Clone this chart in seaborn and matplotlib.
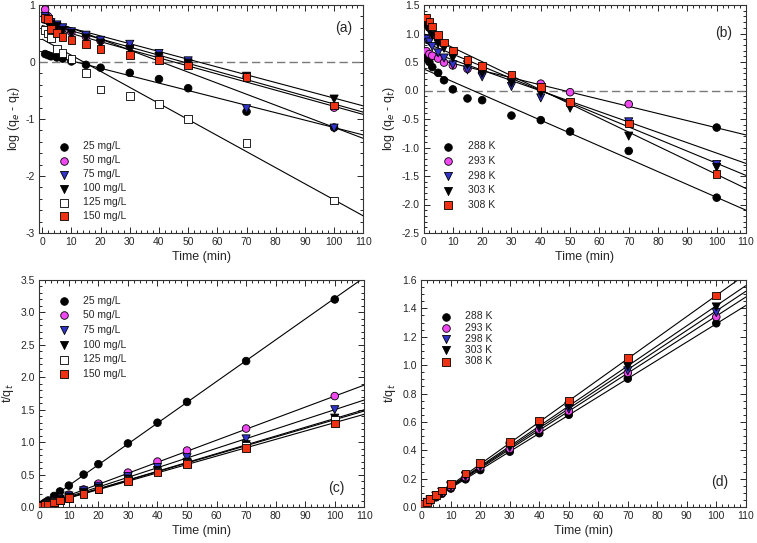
import numpy as np
import pandas as pd
import matplotlib
matplotlib.use("Agg")
import matplotlib.pyplot as plt
import seaborn as sns
from matplotlib.ticker import MultipleLocator, FormatStrFormatter

# ---------------- data ----------------
time = [1, 2, 3, 5, 7, 10, 15, 20, 30, 40, 50, 70, 100]
fit_t = [0, 110]

conc_labels = ["25 mg/L", "50 mg/L", "75 mg/L", "100 mg/L", "125 mg/L", "150 mg/L"]
temp_labels = ["288 K", "293 K", "298 K", "303 K", "308 K"]

# (a) pseudo-first-order, concentrations
a_25 = [0.14, 0.12, 0.10, 0.08, 0.06, 0.01, -0.05, -0.10, -0.19, -0.30, -0.46, -0.87, -1.15]
a_50 = [0.92, 0.80, 0.70, 0.64, 0.58, 0.52, 0.44, 0.37, 0.27, 0.12, 0.00, -0.26, -0.80]
a_75 = [0.80, 0.72, 0.69, 0.65, 0.60, 0.53, 0.47, 0.38, 0.31, 0.15, 0.02, -0.82, -1.16]
a_100 = [0.75, 0.68, 0.65, 0.62, 0.55, 0.50, 0.42, 0.33, 0.22, 0.10, -0.02, -0.25, -0.65]
a_125 = [0.56, 0.50, 0.42, 0.23, 0.16, 0.05, -0.19, -0.48, -0.60, -0.74, -1.00, -1.42, -2.43]
a_150 = [0.77, 0.75, 0.58, 0.51, 0.44, 0.39, 0.32, 0.23, 0.12, 0.03, -0.06, -0.26, -0.76]
a_fit_start = [0.15, 0.69, 0.79, 0.73, 0.40, 0.64]
a_fit_end = [-1.28, -0.88, -1.34, -0.77, -2.70, -0.92]

# (b) pseudo-first-order, temperatures
b_288 = [0.57, 0.50, 0.41, 0.31, 0.18, 0.02, -0.14, -0.17, -0.44, -0.52, -0.72, -1.06, -1.88]
b_293 = [0.69, 0.64, 0.61, 0.56, 0.49, 0.44, 0.38, 0.33, 0.22, 0.12, -0.03, -0.24, -0.65]
b_298 = [0.90, 0.85, 0.77, 0.66, 0.57, 0.45, 0.36, 0.24, 0.07, -0.13, -0.27, -0.55, -1.30]
b_303 = [1.12, 1.05, 0.97, 0.82, 0.74, 0.57, 0.45, 0.30, 0.13, -0.05, -0.31, -0.80, -1.35]
b_308 = [1.28, 1.21, 1.12, 0.97, 0.84, 0.70, 0.54, 0.43, 0.28, 0.06, -0.20, -0.58, -1.47]
b_fit_start = [0.38, 0.60, 0.72, 0.85, 1.00]
b_fit_end = [-2.10, -0.78, -1.28, -1.49, -1.72]
# in the reference the last 293 K point is printed with a black fill
b_293_last_fill = "black"

# (c) pseudo-second-order, concentrations
c_25 = [0.035, 0.07, 0.10, 0.17, 0.24, 0.33, 0.50, 0.66, 0.98, 1.30, 1.62, 2.25, 3.20]
c_50 = [0.03, 0.05, 0.07, 0.10, 0.14, 0.19, 0.27, 0.36, 0.53, 0.70, 0.87, 1.21, 1.71]
c_75 = [0.02, 0.04, 0.06, 0.09, 0.12, 0.17, 0.25, 0.32, 0.47, 0.61, 0.76, 1.05, 1.50]
c_100 = [0.02, 0.035, 0.05, 0.08, 0.11, 0.15, 0.22, 0.29, 0.43, 0.56, 0.69, 0.96, 1.37]
c_125 = [0.015, 0.03, 0.045, 0.075, 0.10, 0.14, 0.21, 0.28, 0.42, 0.55, 0.68, 0.95, 1.35]
c_150 = [0.015, 0.03, 0.04, 0.07, 0.10, 0.14, 0.20, 0.27, 0.40, 0.53, 0.66, 0.91, 1.29]
c_fit_start = [0.01, 0.01, 0.01, 0.01, 0.01, 0.01]
c_fit_end = [3.54, 1.88, 1.65, 1.50, 1.48, 1.43]

# (d) pseudo-second-order, temperatures
d_288 = [0.015, 0.029, 0.043, 0.068, 0.093, 0.13, 0.195, 0.26, 0.39, 0.52, 0.65, 0.905, 1.295]
d_293 = [0.016, 0.031, 0.046, 0.073, 0.10, 0.14, 0.21, 0.28, 0.41, 0.545, 0.675, 0.945, 1.34]
d_298 = [0.016, 0.032, 0.048, 0.075, 0.102, 0.145, 0.215, 0.285, 0.42, 0.555, 0.69, 0.96, 1.37]
d_303 = [0.017, 0.033, 0.05, 0.078, 0.105, 0.15, 0.22, 0.29, 0.43, 0.57, 0.71, 0.99, 1.41]
d_308 = [0.02, 0.035, 0.055, 0.085, 0.115, 0.16, 0.235, 0.31, 0.46, 0.61, 0.75, 1.05, 1.49]
d_fit_start = [0.005, 0.005, 0.005, 0.005, 0.005]
d_fit_end = [1.42, 1.48, 1.52, 1.56, 1.64]

# ---------------- style ----------------
sns.set_theme(style="ticks")
plt.rcParams["font.family"] = ["Liberation Sans", "DejaVu Sans"]
plt.rcParams["axes.unicode_minus"] = False

MAGENTA = "#f048f0"
BLUE = "#3034c8"
RED = "#f03214"

conc_styles = [("o", "black"), ("o", MAGENTA), ("v", BLUE), ("v", "black"), ("s", "white"), ("s", RED)]
temp_styles = [("o", "black"), ("o", MAGENTA), ("v", BLUE), ("v", "black"), ("s", RED)]

fig = plt.figure(figsize=(7.57, 5.43), dpi=100)
W, H = 757.0, 543.0
axa = fig.add_axes([39.3 / W, 1 - 233 / H, 324 / W, 228 / H])
axb = fig.add_axes([423.5 / W, 1 - 233 / H, 322.5 / W, 228 / H])
axc = fig.add_axes([39.3 / W, 1 - 507 / H, 325 / W, 227 / H])
axd = fig.add_axes([421.3 / W, 1 - 507 / H, 324.5 / W, 227 / H])


def draw_panel(ax, series, labels, styles, starts, ends, fills=None):
    handles = []
    for s, e in zip(starts, ends):
        sns.lineplot(x=fit_t, y=[s, e], ax=ax, color="black", linewidth=0.8,
                     zorder=2, legend=False)
    for i, (vals, lab, (mk, col)) in enumerate(zip(series, labels, styles)):
        size = 30 if mk != "v" else 34
        fc = fills[i] if fills is not None and fills[i] is not None else [col] * len(vals)
        ax.scatter(time, vals, marker=mk, c=fc, edgecolors="black",
                   linewidths=0.6, s=size, zorder=3)
        h = ax.scatter([], [], marker=mk, facecolor=col, edgecolor="black",
                       linewidths=0.6, s=size, label=lab)
        handles.append(h)
    return handles


def style_axes(ax, ylim, ymaj, ymin, yfmt, xlim):
    ax.set_xlim(*xlim)
    ax.set_ylim(*ylim)
    ax.xaxis.set_major_locator(MultipleLocator(10))
    ax.xaxis.set_minor_locator(MultipleLocator(2))
    ax.yaxis.set_major_locator(MultipleLocator(ymaj))
    ax.yaxis.set_minor_locator(MultipleLocator(ymin))
    ax.yaxis.set_major_formatter(FormatStrFormatter(yfmt))
    ax.tick_params(which="both", direction="in", top=True, right=True,
                   labelsize=7.5, width=0.7, pad=3)
    ax.tick_params(which="major", length=4)
    ax.tick_params(which="minor", length=2)
    for sp in ax.spines.values():
        sp.set_linewidth(0.8)
        sp.set_color("#333333")
    ax.set_xlabel("Time (min)", fontsize=9, labelpad=3)


# (a)
ha = draw_panel(axa, [a_25, a_50, a_75, a_100, a_125, a_150], conc_labels, conc_styles,
                a_fit_start, a_fit_end)
axa.axhline(0, color="#7a7a7a", linestyle=(0, (6, 3)), linewidth=1.0, zorder=1)
style_axes(axa, (-3, 1), 1, 0.2, "%d", (-1, 110))
axa.set_ylabel("log (q$_e$ - q$_t$)", fontsize=9, labelpad=3)
axa.legend(handles=ha, loc="upper left", bbox_to_anchor=(0.03, 0.42), frameon=False,
           fontsize=7.5, handletextpad=0.9, labelspacing=0.38, borderaxespad=0.0)
axa.text(0.94, 0.90, "(a)", transform=axa.transAxes, fontsize=10, ha="center", va="center")

# (b)
b_fills = [None, [MAGENTA] * (len(b_293) - 1) + [b_293_last_fill], None, None, None]
hb = draw_panel(axb, [b_288, b_293, b_298, b_303, b_308], temp_labels, temp_styles,
                b_fit_start, b_fit_end, fills=b_fills)
axb.axhline(0, color="#7a7a7a", linestyle=(0, (6, 3)), linewidth=1.0, zorder=1)
style_axes(axb, (-2.5, 1.5), 0.5, 0.1, "%.1f", (0, 110))
axb.set_ylabel("log (q$_e$ - q$_t$)", fontsize=9, labelpad=3)
axb.legend(handles=hb, loc="upper left", bbox_to_anchor=(0.03, 0.42), frameon=False,
           fontsize=7.5, handletextpad=0.9, labelspacing=0.45, borderaxespad=0.0)
axb.text(0.93, 0.877, "(b)", transform=axb.transAxes, fontsize=10, ha="center", va="center")

# (c)
hc = draw_panel(axc, [c_25, c_50, c_75, c_100, c_125, c_150], conc_labels, conc_styles,
                c_fit_start, c_fit_end)
style_axes(axc, (0, 3.5), 0.5, 0.1, "%.1f", (0, 110))
axc.set_ylabel("t/q$_t$", fontsize=9, labelpad=3)
axc.legend(handles=hc, loc="upper left", bbox_to_anchor=(0.03, 0.95), frameon=False,
           fontsize=7.5, handletextpad=0.9, labelspacing=0.45, borderaxespad=0.0)
axc.text(0.915, 0.085, "(c)", transform=axc.transAxes, fontsize=10, ha="center", va="center")

# (d)
hd = draw_panel(axd, [d_288, d_293, d_298, d_303, d_308], temp_labels, temp_styles,
                d_fit_start, d_fit_end)
style_axes(axd, (0, 1.6), 0.2, 0.05, "%.1f", (0, 110))
axd.set_ylabel("t/q$_t$", fontsize=9, labelpad=3)
axd.legend(handles=hd, loc="upper left", bbox_to_anchor=(0.03, 0.88), frameon=False,
           fontsize=7.5, handletextpad=0.9, labelspacing=0.12, borderaxespad=0.0)
axd.text(0.92, 0.11, "(d)", transform=axd.transAxes, fontsize=10, ha="center", va="center")

fig.savefig("out.png", dpi=100)
